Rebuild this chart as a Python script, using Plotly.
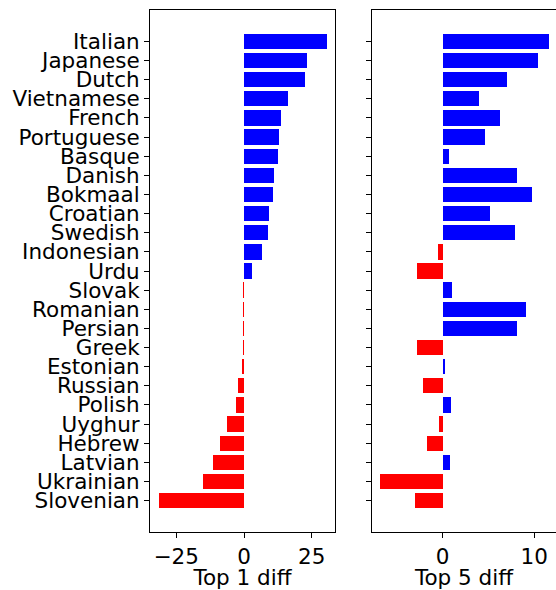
import plotly.graph_objects as go
from plotly.subplots import make_subplots

languages = ["Italian", "Japanese", "Dutch", "Vietnamese", "French", "Portuguese",
             "Basque", "Danish", "Bokmaal", "Croatian", "Swedish", "Indonesian",
             "Urdu", "Slovak", "Romanian", "Persian", "Greek", "Estonian",
             "Russian", "Polish", "Uyghur", "Hebrew", "Latvian", "Ukrainian",
             "Slovenian"]

top1_diff = [30.7, 23.3, 22.5, 16.3, 13.7, 12.9, 12.6, 11.1, 10.7, 9.2, 8.9, 6.6,
             3.0, -0.25, -0.25, -0.25, -0.25, -0.4, -2.2, -3.0, -6.3, -8.9, -11.5,
             -15.3, -31.4]

top5_diff = [11.56, 10.36, 6.98, 3.93, 6.22, 4.58, 0.65, 8.07, 9.71, 5.13, 7.85,
             -0.55, -2.78, 0.98, 9.05, 8.07, -2.84, 0.22, -2.18, 0.87, -0.44,
             -1.75, 0.76, -6.87, -3.05]

BLUE = "#0000ff"
RED = "#ff0000"
FONT = "DejaVu Sans"
FSIZE = 21.5

positions = list(range(len(languages)))


def colors(vals):
    return [BLUE if v >= 0 else RED for v in vals]


fig = make_subplots(rows=1, cols=2, shared_yaxes=True, horizontal_spacing=0.09)

fig.add_trace(go.Bar(y=positions, x=top1_diff, orientation="h", width=0.8,
                     marker=dict(color=colors(top1_diff), line=dict(width=0)),
                     showlegend=False), row=1, col=1)
fig.add_trace(go.Bar(y=positions, x=top5_diff, orientation="h", width=0.8,
                     marker=dict(color=colors(top5_diff), line=dict(width=0)),
                     showlegend=False), row=1, col=2)

axis_common = dict(showgrid=False, zeroline=False, linecolor="black", linewidth=1,
                   ticks="outside", ticklen=5, tickwidth=1, tickcolor="black",
                   tickfont=dict(family=FONT, size=FSIZE, color="black"))

fig.update_xaxes(**axis_common)
fig.update_yaxes(**axis_common)

fig.update_xaxes(domain=[0, 0.4557], range=[-34.7, 33.6], tickmode="array",
                 tickvals=[-25, 0, 25], mirror=True, showline=True,
                 title=dict(text="Top 1 diff", font=dict(family=FONT, size=FSIZE, color="black"),
                            standoff=6),
                 row=1, col=1)
fig.update_xaxes(domain=[0.5468, 1.0], range=[-7.72, 12.37], tickmode="array",
                 tickvals=[0, 10], mirror=True, showline=True,
                 title=dict(text="Top 5 diff", font=dict(family=FONT, size=FSIZE, color="black"),
                            standoff=6),
                 row=1, col=2)

fig.update_yaxes(range=[25.64, -1.64], tickmode="array", tickvals=positions,
                 ticktext=languages, showline=True, mirror=True, row=1, col=1)
fig.update_yaxes(range=[25.64, -1.64], tickmode="array", tickvals=positions,
                 showline=True, mirror=False, showticklabels=False, row=1, col=2)

fig.update_layout(width=556, height=590, margin=dict(l=150, r=0, t=10, b=58),
                  plot_bgcolor="white", paper_bgcolor="white", bargap=0,
                  font=dict(family=FONT, size=FSIZE, color="black"))

fig.write_html("out.html")
